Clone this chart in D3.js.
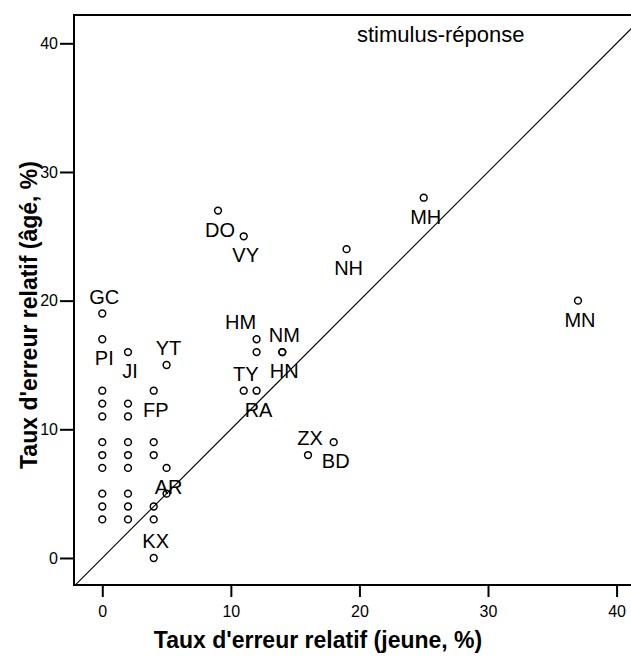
<!DOCTYPE html>
<html>
<head>
<meta charset="utf-8">
<script src="https://cdn.jsdelivr.net/npm/d3@7"></script>
<style>
   body { margin: 0; background: #fff; }
   svg { display: block; font-family: Arial, "Liberation Sans", sans-serif; }
</style>
</head>
<body>
<script>
"use strict"

// taux d'erreur relatif, jeune (x) vs âgé (y), en %
const names = ['GC', 'PI', '', '', '', '', '', '', '', '',
   '', 'JI', '', '', '', '', '', '', '', '',
   'FP', '', '', '', '', 'KX', 'YT', 'AR', '',
   'DO', 'VY', 'NH', 'MH', 'MN', 'HM', '', 'NM', 'HN',
   'TY', 'RA', 'ZX', 'BD']
const young = [0, 0, 0, 0, 0, 0, 0, 0, 0, 0, 0,
   2, 2, 2, 2, 2, 2, 2, 2, 2,
   4, 4, 4, 4, 4, 4, 5, 5, 5,
   9, 11, 19, 25, 37, 12, 12, 14, 14,
   11, 12, 16, 18]
const old = [19, 17, 13, 12, 11, 9, 8, 7, 5, 4, 3,
   16, 12, 11, 9, 8, 7, 5, 4, 3,
   13, 9, 8, 4, 3, 0, 15, 7, 5,
   27, 25, 24, 28, 20, 17, 16, 16, 16,
   13, 13, 8, 9]
const xTicks = [0, 10, 20, 30, 40]
const yTicks = [0, 10, 20, 30, 40]

// label placement relative to its point
const below = ['PI', 'JI', 'FP', 'AR', 'DO', 'VY', 'NH', 'MH', 'MN', 'HN', 'RA', 'BD']
const shiftLeft = { HM: -18 }

const W = 631, H = 658
const pL = 74, pT = 15, pR = 650, pB = 585

const x = d3.scaleLinear([-2.2, 42.6], [pL, pR])
const y = d3.scaleLinear([-2.1, 42.2], [pB, pT])

const pts = names.map((n, i) => ({ name: n, x: young[i], y: old[i] }))

const svg = d3.select('body')
   .append('svg')
      .attr('width', W)
      .attr('height', H)

svg.append('defs').append('clipPath')
   .attr('id', 'plot-clip')
   .append('rect')
      .attr('x', pL)
      .attr('y', pT)
      .attr('width', pR - pL)
      .attr('height', pB - pT)

// identity line
svg.append('line')
   .attr('clip-path', 'url(#plot-clip)')
   .attr('x1', x(-2.2)).attr('y1', y(-2.2))
   .attr('x2', x(45)).attr('y2', y(45))
   .attr('stroke', '#000')
   .attr('stroke-width', 1.1)

svg.append('rect')
   .attr('x', pL)
   .attr('y', pT)
   .attr('width', pR - pL)
   .attr('height', pB - pT)
   .attr('fill', 'none')
   .attr('stroke', '#000')
   .attr('stroke-width', 2)

const xAxis = svg.append('g')
   .attr('transform', `translate(0, ${pB})`)
   .call(d3.axisBottom(x).tickValues(xTicks).tickSize(12).tickSizeOuter(0).tickPadding(9))
xAxis.select('.domain').remove()

const yAxis = svg.append('g')
   .attr('transform', `translate(${pL}, 0)`)
   .call(d3.axisLeft(y).tickValues(yTicks).tickSize(14).tickSizeOuter(0).tickPadding(2))
yAxis.select('.domain').remove()

svg.selectAll('.tick line').attr('stroke', '#000').attr('stroke-width', 2)
svg.selectAll('.tick text')
   .attr('fill', '#000')
   .style('font-size', '16px')
   .style('font-family', 'Arial, "Liberation Sans", sans-serif')

svg.selectAll('circle.pt')
   .data(pts)
   .enter()
   .append('circle')
      .attr('class', 'pt')
      .attr('cx', d => x(d.x))
      .attr('cy', d => y(d.y))
      .attr('r', 3.4)
      .attr('fill', 'none')
      .attr('stroke', '#000')
      .attr('stroke-width', 1.5)

svg.selectAll('text.lbl')
   .data(pts.filter(d => d.name))
   .enter()
   .append('text')
      .attr('class', 'lbl')
      .attr('x', d => x(d.x) + 2 + (shiftLeft[d.name] || 0))
      .attr('y', d => y(d.y) + (below.includes(d.name) ? 26 : -10))
      .attr('text-anchor', 'middle')
      .style('font-size', '20px')
      .text(d => d.name)

svg.append('text')
   .attr('x', 357)
   .attr('y', 42)
   .style('font-size', '22px')
   .text('stimulus-réponse')

svg.append('text')
   .attr('x', 318)
   .attr('y', 648)
   .attr('text-anchor', 'middle')
   .style('font-size', '23px')
   .style('font-weight', 'bold')
   .text("Taux d'erreur relatif (jeune, %)")

svg.append('text')
   .attr('transform', 'translate(37, 315) rotate(-90)')
   .attr('text-anchor', 'middle')
   .style('font-size', '23px')
   .style('font-weight', 'bold')
   .text("Taux d'erreur relatif (âgé, %)")
</script>
</body>
</html>
